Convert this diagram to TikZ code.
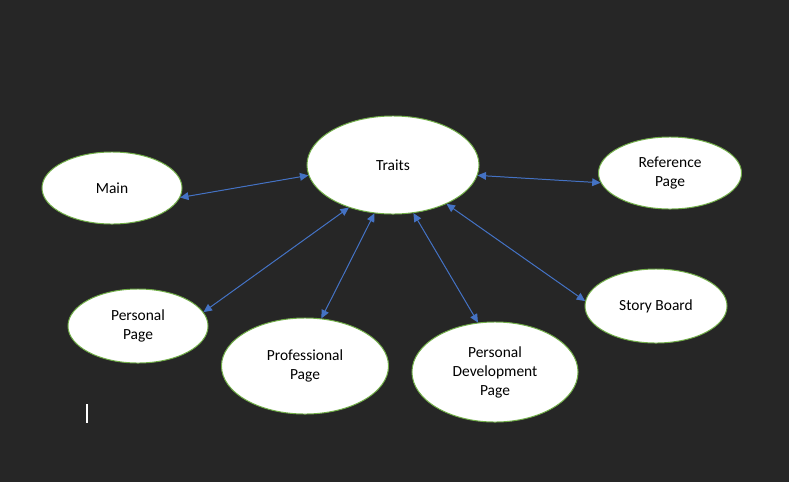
\documentclass[tikz,border=0pt]{standalone}
\usepackage{fontspec}
\setmainfont{Carlito}
\usetikzlibrary{arrows.meta,shapes.geometric}
\definecolor{bgdark}{RGB}{38,38,38}
\definecolor{rimgreen}{RGB}{112,173,71}
\definecolor{linkblue}{RGB}{68,114,196}
\tikzset{
  page/.style={ellipse, draw=rimgreen, line width=0.7pt, fill=white, inner sep=0pt,
    align=center, font=\fontsize{11}{13.5}\selectfont},
  link/.style={{Triangle[length=6pt,width=5.5pt]}-{Triangle[length=6pt,width=5.5pt]},
    draw=linkblue, fill=linkblue, line width=0.7pt}
}

\begin{document}
\begin{tikzpicture}[x=0.025cm, y=-0.025cm]
\fill[bgdark] (0,0) rectangle (789,482);
\useasboundingbox (0,0) rectangle (789,482);

\node[page, minimum width=3.5cm, minimum height=1.8cm] (M) at (112,188) {Main};
\node[page, minimum width=4.3cm, minimum height=2.45cm] (T) at (393,165) {Traits};
\node[page, minimum width=3.575cm, minimum height=1.8cm] (R) at (670,173) {Reference\\Page};
\node[page, minimum width=3.5cm, minimum height=1.85cm] (PP) at (138,326) {Personal\\Page};
\node[page, minimum width=4.175cm, minimum height=2.4cm] (PR) at (305,366) {Professional\\Page};
\node[page, minimum width=4.15cm, minimum height=2.5cm] (PD) at (495,372) {Personal\\Development\\Page};
\node[page, minimum width=3.55cm, minimum height=1.85cm] (SB) at (656,306) {Story Board};

\draw[link] (M.-8) -- (T.187);
\draw[link] (T.-7) -- (R.188);
\draw[link] (PP.12) -- (T.224);
\draw[link] (PR.71) -- (T.249);
\draw[link] (PD.109) -- (T.293);
\draw[link] (SB.176) -- (T.324);

% text cursor
\draw[white, line width=0.8pt] (87,404) -- (87,423);
\end{tikzpicture}
\end{document}
